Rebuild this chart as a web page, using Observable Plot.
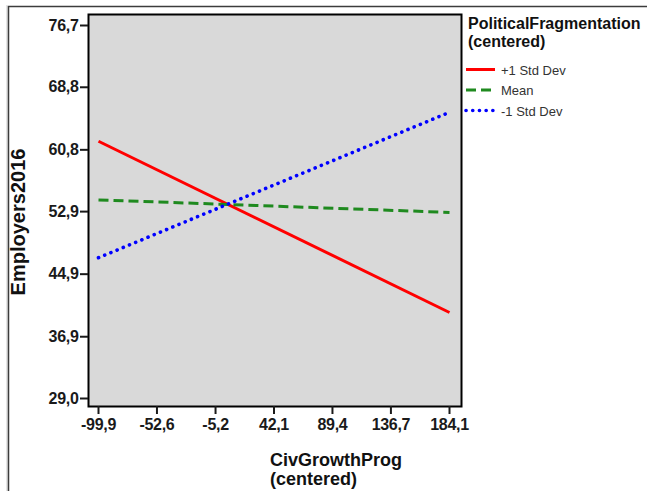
<!DOCTYPE html>
<html>
<head>
<meta charset="utf-8">
<script src="https://cdn.jsdelivr.net/npm/d3@7"></script>
<script src="https://cdn.jsdelivr.net/npm/@observablehq/plot@0.6"></script>
<style>
  html, body { margin: 0; padding: 0; background: #fff; }
  #chart svg { display: block; font-family: "Liberation Sans", Arial, sans-serif; }
</style>
</head>
<body>
<div id="chart"></div>
<script>
// ---- data ----
const xValues = [-99.9, 184.1];
const seriesNames = ["+1 Std Dev", "Mean", "-1 Std Dev"];
const plusOneSD = [61.9, 40.0];
const meanVals = [54.4, 52.8];
const minusOneSD = [47.0, 65.6];
const xTicks = [-99.9, -52.6, -5.2, 42.1, 89.4, 136.7, 184.1];
const yTicks = [29.0, 36.9, 44.9, 52.9, 60.8, 68.8, 76.7];
const xTitle = ["CivGrowthProg", "(centered)"];
const yTitle = "Employers2016";
const legendTitle = ["PoliticalFragmentation", "(centered)"];

// ---- styles ----
const colors = ["#ff0000", "#1f8a1f", "#0000ff"];
const dashes = [null, "10,5", "0.1,6.6"];
const caps = ["butt", "butt", "round"];
const widths = [3, 3, 3.6];

const seriesVals = [plusOneSD, meanVals, minusOneSD];
const rows = [];
seriesNames.forEach((s, k) => xValues.forEach((x, i) => rows.push({series: s, k, x, y: seriesVals[k][i]})));

const fmt = d => d.toFixed(1).replace(".", ",");

const plot = Plot.plot({
  width: 647,
  height: 491,
  marginLeft: 88,
  marginRight: 186,
  marginTop: 14,
  marginBottom: 85,
  style: {fontFamily: "Liberation Sans, Arial, sans-serif", color: "#1a1a1a"},
  x: {domain: [-99.9, 184.1], insetLeft: 10, insetRight: 12},
  y: {domain: [29.0, 76.7], insetTop: 11, insetBottom: 8},
  marks: [
    Plot.frame({fill: "#d9d9d9"}),
    ...seriesNames.map((s, k) => Plot.line(rows.filter(r => r.k === k), {
      x: "x", y: "y", stroke: colors[k], strokeWidth: widths[k],
      strokeDasharray: dashes[k], strokeLinecap: caps[k]
    })),
    Plot.frame({stroke: "#000", strokeWidth: 2}),
    Plot.axisY({ticks: yTicks, tickFormat: fmt, tickSize: 8, tickPadding: 2, strokeWidth: 2, label: null, fontSize: 16}),
    Plot.axisX({ticks: xTicks, tickFormat: fmt, tickSize: 8, tickPadding: 4, strokeWidth: 2, label: null, fontSize: 16})
  ]
});
document.getElementById("chart").appendChild(plot);

const svg = d3.select(plot);
svg.selectAll('g[aria-label$="tick label"] text')
  .style("font-weight", "bold").style("font-size", "16px").style("letter-spacing", "-0.3px").attr("fill", "#1a1a1a");

// page border lines
svg.append("line").attr("x1", 7).attr("x2", 7).attr("y1", 5).attr("y2", 491).attr("stroke", "#c8c8c8").attr("stroke-width", 1);
svg.append("line").attr("x1", 8.5).attr("x2", 8.5).attr("y1", 6).attr("y2", 491).attr("stroke", "#3c3c3c").attr("stroke-width", 1.5);
svg.append("line").attr("x1", 8).attr("x2", 647).attr("y1", 6.5).attr("y2", 6.5).attr("stroke", "#3c3c3c").attr("stroke-width", 1.5);

const addText = (x, y, t, size, weight, fill, anchor = "start") =>
  svg.append("text").attr("x", x).attr("y", y).attr("text-anchor", anchor)
    .style("font-size", size + "px").style("font-weight", weight).attr("fill", fill).text(t);

// y title
svg.append("text").attr("transform", "translate(25,222) rotate(-90)")
  .attr("text-anchor", "middle").style("font-weight", "bold").style("font-size", "20px").attr("fill", "#111")
  .text(yTitle);
// x title
xTitle.forEach((t, i) => addText(270, 466 + i * 19, t, 18, "bold", "#111"));
// legend title
legendTitle.forEach((t, i) => addText(468, 29 + i * 18, t, 16, "bold", "#111"));
// legend items
seriesNames.forEach((s, k) => {
  const yy = 69.5 + k * 20.5;
  svg.append("line").attr("x1", 466).attr("x2", 495).attr("y1", yy).attr("y2", yy)
    .attr("stroke", colors[k]).attr("stroke-width", widths[k])
    .attr("stroke-dasharray", dashes[k]).attr("stroke-linecap", caps[k]);
  addText(501, yy + 5, s, 13, "normal", "#333");
});
</script>
</body>
</html>
